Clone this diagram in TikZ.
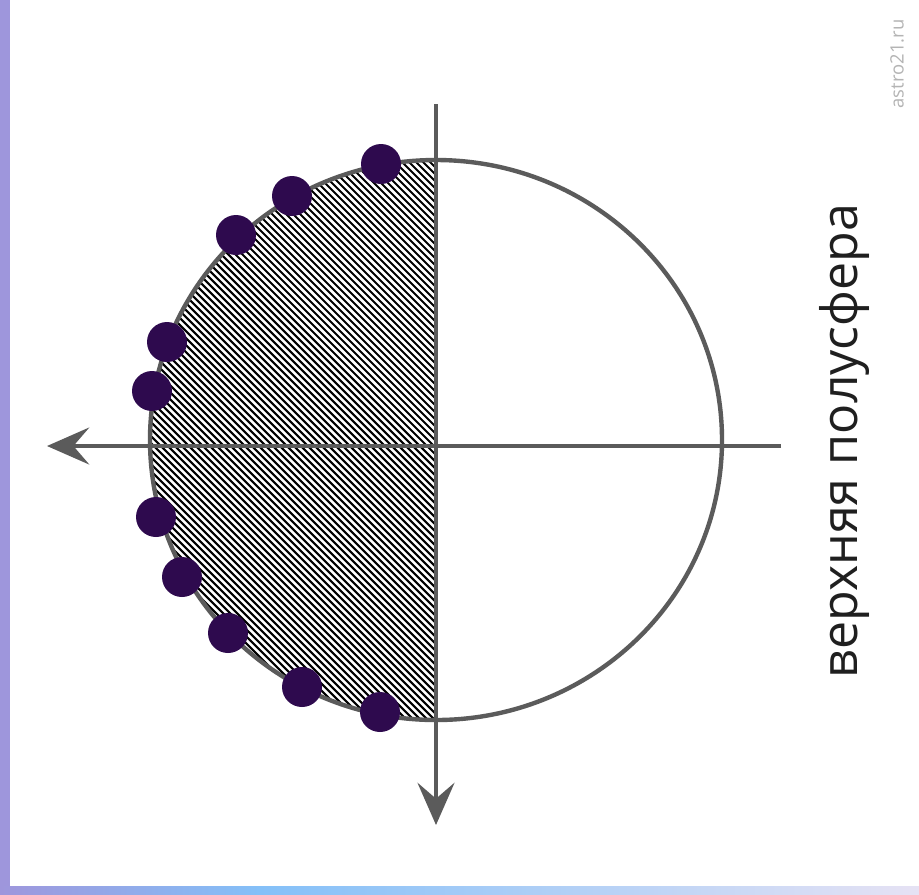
\documentclass[tikz,border=0pt]{standalone}
\usepackage{fontspec}
\setmainfont{Open Sans}
\usepackage{xcolor}
\usetikzlibrary{calc, arrows.meta}

\definecolor{axisgray}{HTML}{5B5B5B}
\definecolor{dotpurple}{HTML}{2E0A4E}
\definecolor{stripviolet}{HTML}{9E96DC}
\definecolor{stripblue}{HTML}{84C0F8}
\definecolor{striplilac}{HTML}{E6E2F4}
\definecolor{marktext}{HTML}{B4B4B4}

\begin{document}
\begin{tikzpicture}[x=0.02cm, y=-0.02cm,
    axis/.style={line width=2.7pt, draw=axisgray, -{Stealth[length=24pt, width=21pt, inset=9pt]}},
    hatch/.style={line width=1.2pt, black},
    dot/.style={circle, fill=dotpurple, inner sep=0pt, minimum size=0.8cm}]

    % =================================================================
    % 1. ФОН И ЦВЕТНЫЕ ПОЛОСЫ ПО КРАЯМ
    % =================================================================
    \useasboundingbox (0,0) rectangle (919,894);
    \fill[white] (0,0) rectangle (919,894);
    \fill[stripviolet] (0,0) rectangle (10,894);
    \shade[left color=stripviolet, right color=stripblue] (0,886) rectangle (260,894);
    \shade[left color=stripblue, right color=striplilac] (260,886) rectangle (919,894);

    % =================================================================
    % 2. КООРДИНАТЫ ЦЕНТРА И КОНЦОВ ОСЕЙ
    % =================================================================
    \coordinate (O) at (436,440);
    \coordinate (AxisRight) at (781,446);
    \coordinate (AxisLeft) at (47,446);
    \coordinate (AxisTop) at (436,104);
    \coordinate (AxisBottom) at (436,825);

    % =================================================================
    % 3. ШТРИХОВКА ЛЕВОЙ ПОЛОВИНЫ КРУГА
    % =================================================================
    \begin{scope}
        \clip (100,100) rectangle (436,800);
        \clip (O) ellipse (286 and 280);
        \foreach \c in {-600,-593,...,300}
            \draw[hatch] (\c+100,100) -- (\c+800,800);
    \end{scope}

    % круг
    \draw[line width=2.5pt, axisgray] (O) ellipse (286 and 280);

    % =================================================================
    % 4. ОСИ СО СТРЕЛКАМИ
    % =================================================================
    \draw[axis] (AxisRight) -- (AxisLeft);
    \draw[axis] (AxisTop) -- (AxisBottom);

    % =================================================================
    % 5. ТОЧКИ НА ЛЕВОЙ ПОЛУОКРУЖНОСТИ
    % =================================================================
    \foreach \px/\py [count=\i] in {381/164, 292/196, 236/235, 167/342, 152/391,
                                    156/517, 182/577, 228/633, 302/687, 380/712}
        \node[dot] (d\i) at (\px,\py) {};

    % =================================================================
    % 6. ПОДПИСИ
    % =================================================================
    \node[rotate=90, anchor=base, text=black!88, font=\fontsize{28.5}{32}\selectfont]
        (label) at (857,441) {верхняя полусфера};
    \node[rotate=90, text=marktext, font=\fontsize{10.5}{12}\selectfont]
        (site) at (897,64) {astro21.ru};

\end{tikzpicture}
\end{document}
